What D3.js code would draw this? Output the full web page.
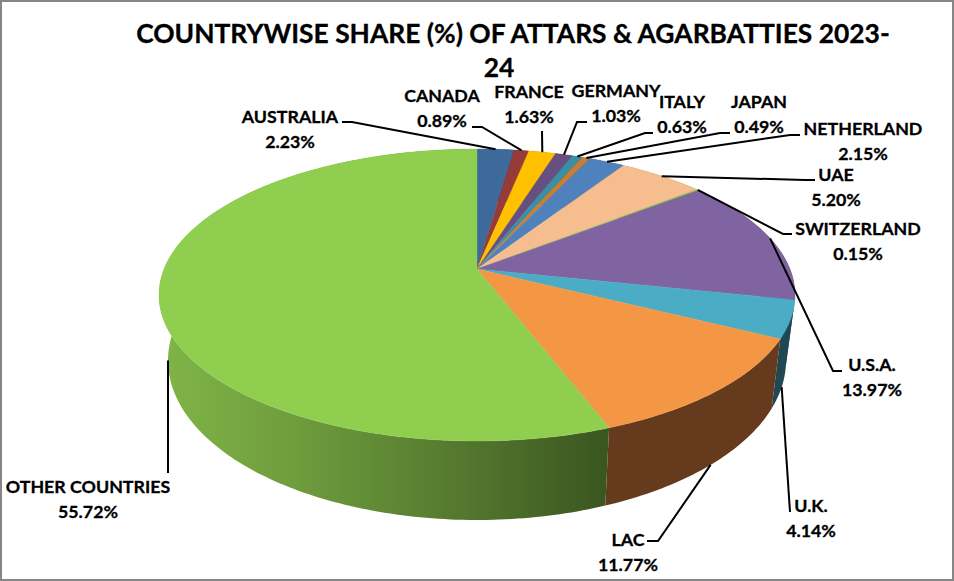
<!DOCTYPE html>
<html>
<head>
<meta charset="utf-8">
<script src="https://cdn.jsdelivr.net/npm/d3@7"></script>
<style>
  html, body { margin: 0; padding: 0; background: #fff; }
  text { font-family: Lato, sans-serif; font-weight: 700; fill: #000; stroke: #000; stroke-width: 0.3px; }
</style>
</head>
<body>
<div id="chart"></div>
<script>
// data
const countries = ["AUSTRALIA", "CANADA", "FRANCE", "GERMANY", "ITALY", "JAPAN", "NETHERLAND",
    "UAE", "SWITZERLAND", "U.S.A.", "U.K.", "LAC", "OTHER COUNTRIES"];
const shares = [2.23, 0.89, 1.63, 1.03, 0.63, 0.49, 2.15, 5.20, 0.15, 13.97, 4.14, 11.77, 55.72];
const titleLines = ["COUNTRYWISE SHARE (%) OF ATTARS & AGARBATTIES 2023-", "24"];

// colours, same order as countries
const topColors = ["#3d6a9a", "#953b39", "#ffc000", "#67507f", "#3a8ea5", "#c97e33", "#4f81bd",
    "#f6bd8e", "#90ce50", "#8064a2", "#4bacc6", "#f49745", "#90ce50"];
const wallColors = ["#26425f", "#5d2524", "#9f7800", "#40324f", "#245967", "#7d4f20", "#314f76",
    "#9a7658", "#5b8232", "#503e65", "#1f4754", "#663a1d", "#5b8232"];

// label layout: [centre x, first baseline]
const labelPos = [[290, 123], [442, 102], [529, 98], [616, 97], [682, 108], [759, 108], [863, 135],
    [836, 181], [858, 235], [872, 371], [811, 512], [628, 546], [88, 493]];
// leader layout: points after the rim anchor
const leaderPts = [
    [[352, 122], [342, 122]],
    [[482, 127], [472, 127]],
    [[542, 131]],
    [[577, 122], [587, 122]],
    [[645, 133], [653, 133]],
    [[720, 133], [730, 133]],
    [[790, 135], [800, 135]],
    [[805, 180], [815, 180]],
    [[783, 234], [792, 234]],
    [[833, 371], [842, 371]],
    [[790, 512]],
    [[658, 541], [647, 541]],
    [[168, 473]]
];

const width = 954;
const height = 581;

const svg = d3.select("#chart")
    .append("svg")
    .attr("width", width)
    .attr("height", height)
    .style("display", "block");

svg.append("rect")
    .attr("x", 1).attr("y", 1)
    .attr("width", width - 2).attr("height", height - 2)
    .attr("fill", "#fff")
    .attr("stroke", "#868686")
    .attr("stroke-width", 2);

// unit disc -> screen, top face and bottom face
const xTop = d3.scaleLinear().domain([-1, 1]).range([159, 795]);
const yTop = d3.scaleLinear().domain([-1, 1]).range([149, 441]);
const xBottom = d3.scaleLinear().domain([-1, 1]).range([168, 786]);
const yBottom = d3.scaleLinear().domain([-1, 1]).range([201, 520]);

// perspective: the pie centre sits above the centre of the ellipse
const tilt = -0.178;
function disc(r, angle) {
    const u = r * Math.sin(angle);
    const v = -r * Math.cos(angle);
    const d = 1 + tilt * v;
    return [u * Math.sqrt(1 - tilt * tilt) / d, (v + tilt) / d];
}
const onTop = (r, a) => { const p = disc(r, a); return [xTop(p[0]), yTop(p[1])]; };
const onBottom = (r, a) => { const p = disc(r, a); return [xBottom(p[0]), yBottom(p[1])]; };

const pie = d3.pie().sort(null).value(d => d);
const slices = pie(shares);
const line = d3.line();

function arcAngles(s) {
    const n = Math.max(2, Math.ceil((s.endAngle - s.startAngle) * 60));
    return d3.range(n + 1).map(i => s.startAngle + (s.endAngle - s.startAngle) * i / n);
}

// gradient on the big wall
const defs = svg.append("defs");
const grad = defs.append("linearGradient")
    .attr("id", "otherWall")
    .attr("gradientUnits", "userSpaceOnUse")
    .attr("x1", xTop(-1)).attr("x2", xTop(0.42)).attr("y1", 0).attr("y2", 0);
grad.append("stop").attr("offset", 0).attr("stop-color", "#80b548");
grad.append("stop").attr("offset", 0.3).attr("stop-color", "#6f9c3d");
grad.append("stop").attr("offset", 0.65).attr("stop-color", "#557a2f");
grad.append("stop").attr("offset", 1).attr("stop-color", "#3a5520");

// WALLS
svg.append("g")
    .selectAll("path")
    .data(slices)
    .join("path")
    .attr("d", s => {
        const a = arcAngles(s);
        return line(a.map(t => onTop(1, t)).concat(a.slice().reverse().map(t => onBottom(1, t)))) + "Z";
    })
    .attr("fill", (s, i) => i === countries.length - 1 ? "url(#otherWall)" : wallColors[i]);

// TOP FACE
svg.append("g")
    .selectAll("path")
    .data(slices)
    .join("path")
    .attr("d", (s, i) => line([onTop(0, 0)].concat(arcAngles(s).map(t => onTop(1, t)))) + "Z")
    .attr("fill", (s, i) => topColors[i])
    .attr("stroke", (s, i) => topColors[i])
    .attr("stroke-width", 0.4);

// LEADERS: back slices end on the top rim, front slices on the bottom rim
svg.append("g")
    .selectAll("path")
    .data(slices)
    .join("path")
    .attr("d", (s, i) => {
        const mid = (s.startAngle + s.endAngle) / 2;
        const anchor = i >= 10 ? onBottom(1, mid) : onTop(1, mid);
        return line([anchor].concat(leaderPts[i]));
    })
    .attr("fill", "none")
    .attr("stroke", "#000")
    .attr("stroke-width", 2);

// LABELS
const labels = svg.append("g")
    .selectAll("text")
    .data(countries)
    .join("text")
    .attr("text-anchor", "middle")
    .attr("font-size", 17.8);
labels.append("tspan")
    .attr("x", (d, i) => labelPos[i][0])
    .attr("y", (d, i) => labelPos[i][1])
    .text(d => d);
labels.append("tspan")
    .attr("x", (d, i) => labelPos[i][0])
    .attr("y", (d, i) => labelPos[i][1] + 25)
    .text((d, i) => d3.format(".2f")(shares[i]) + "%");

// TITLE
svg.append("text")
    .attr("x", 513).attr("y", 43)
    .attr("text-anchor", "middle")
    .attr("font-size", 26.4)
    .text(titleLines[0]);
svg.append("text")
    .attr("x", 499).attr("y", 77)
    .attr("text-anchor", "middle")
    .attr("font-size", 26.4)
    .text(titleLines[1]);
</script>
</body>
</html>
